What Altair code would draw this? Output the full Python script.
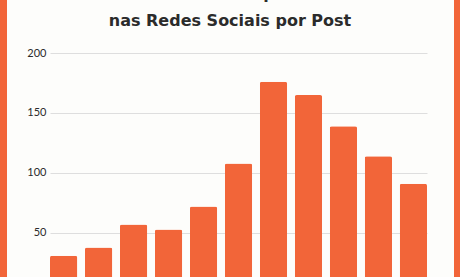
import altair as alt
import pandas as pd

categories = ["1", "2", "3", "4", "5", "6", "7", "8", "9", "10", "11"]
values = [31, 38, 57, 53, 72, 108, 176, 165, 139, 114, 91]
tick_values = [50, 100, 150, 200]
title_lines = ["Número Médio de Compartilhamentos", "nas Redes Sociais por Post"]

ORANGE = "#F26539"
BG = "#FDFDFB"
TEXT = "#2B2B2B"

df = pd.DataFrame({"cat": categories, "val": values})

W, H = 377, 224

bars = alt.Chart(df).mark_bar(
    color=ORANGE, cornerRadiusTopLeft=2, cornerRadiusTopRight=2
).encode(
    x=alt.X("cat:N", sort=categories, axis=None,
            scale=alt.Scale(paddingInner=0.22, paddingOuter=0)),
    y=alt.Y("val:Q",
            scale=alt.Scale(domain=[13.33, 200], nice=False, zero=False, clamp=True),
            axis=alt.Axis(values=tick_values, title=None, grid=True,
                          gridColor="#DEDEDE", domain=False, ticks=False,
                          labelPadding=4, labelFontSize=11, labelFont="Lato",
                          labelColor=TEXT, labelFontWeight="normal")),
)

frame_data = alt.Data(values=[{}])
left_strip = alt.Chart(frame_data).mark_rect(color=ORANGE).encode(
    x=alt.value(-50), x2=alt.value(-43), y=alt.value(-53), y2=alt.value(H)
)
right_strip = alt.Chart(frame_data).mark_rect(color=ORANGE).encode(
    x=alt.value(404), x2=alt.value(410), y=alt.value(-53), y2=alt.value(H)
)

chart = alt.layer(bars, left_strip, right_strip).properties(
    width=W, height=H,
    title=alt.TitleParams(text=title_lines, fontSize=16, font="DejaVu Sans",
                          fontWeight="bold", color=TEXT, anchor="middle",
                          frame="group", dx=-8.5, lineHeight=27, offset=0,
                          baseline="alphabetic", dy=42),
    autosize=alt.AutoSizeParams(type="none"),
    padding={"left": 50, "top": 53, "right": 33, "bottom": 0},
    background=BG,
).configure_view(stroke=None)

chart.save("out.html", embed_options={"renderer": "svg", "actions": False})
